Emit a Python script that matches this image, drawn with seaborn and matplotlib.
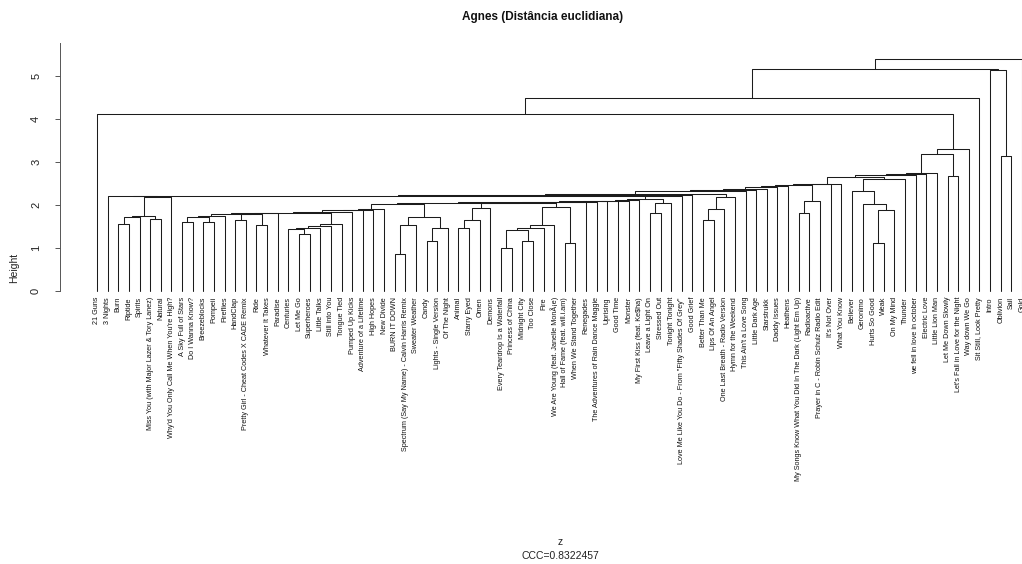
import numpy as np
import pandas as pd
import matplotlib
matplotlib.use("Agg")
import matplotlib.pyplot as plt
import seaborn as sns

sns.set_theme(style="white")
plt.rcParams["font.family"] = ["Liberation Sans", "DejaVu Sans"]

# Leaf labels in dendrogram order
leaves = [
    "21 Guns", "3 Nights", "Burn", "Riptide", "Spirits",
    "Miss You (with Major Lazer & Tory Lanez)", "Natural",
    "Why'd You Only Call Me When You're High?", "A Sky Full of Stars",
    "Do I Wanna Know?", "Breezeblocks", "Pompeii", "Fireflies", "HandClap",
    "Pretty Girl - Cheat Codes X CADE Remix", "Ride", "Whatever It Takes",
    "Paradise", "Centuries", "Let Me Go", "Superheroes", "Little Talks",
    "Still into You", "Tongue Tied", "Pumped Up Kicks",
    "Adventure of a Lifetime", "High Hopes", "New Divide", "BURN IT DOWN",
    "Spectrum (Say My Name) - Calvin Harris Remix", "Sweater Weather", "Candy",
    "Lights - Single Version", "Of The Night", "Animal", "Starry Eyed", "Omen",
    "Demons", "Every Teardrop Is a Waterfall", "Princess of China",
    "Midnight City", "Too Close", "Fire", "We Are Young (feat. Janelle MonÃ¡e)",
    "Hall of Fame (feat. will.i.am)", "When We Stand Together", "Renegades",
    "The Adventures of Rain Dance Maggie", "Uprising", "Good Time", "Monster",
    "My First Kiss (feat. Ke$ha)", "Leave a Light On", "Stressed Out",
    "Tonight Tonight", "Love Me Like You Do - From \"Fifty Shades Of Grey\"",
    "Good Grief", "Better Than Me", "Lips Of An Angel",
    "One Last Breath - Radio Version", "Hymn for the Weekend",
    "This Ain't a Love Song", "Little Dark Age", "Starstrukk", "Daddy Issues",
    "Heathens", "My Songs Know What You Did In The Dark (Light Em Up)",
    "Radioactive", "Prayer in C - Robin Schulz Radio Edit", "It's Not Over",
    "What You Know", "Believer", "Geronimo", "Hurts So Good", "Weak",
    "On My Mind", "Thunder", "we fell in love in october", "Electric Love",
    "Little Lion Man", "Let Me Down Slowly", "Let's Fall in Love for the Night",
    "Way down We Go", "Sit Still, Look Pretty", "Intro", "Oblivion", "Sail",
    "Gold",
]

# Agglomeration steps (hclust convention: negative = leaf number, positive = earlier step)
merge_a = [
    -3, 1, -6, 2, 4, -2, -9, -11, 7, 9, -14, -16, 11, 10, 14, -20, -19, 17, 18,
    19, 15, 21, 22, 23, 24, -29, 26, -32, 28, 27, 25, -35, 32, 33, -39, -41, 35,
    37, 38, -45, 39, 34, 31, 43, 44, 45, 46, 47, 48, -53, 50, 49, 52, 6, 54,
    -58, 56, 57, 55, 59, 60, 61, 62, 63, -67, 65, 64, 67, 68, -74, 70, -73, -72,
    73, 69, 75, 76, 77, -81, 78, 80, -1, 82, -86, -85, 83, 86,
]
merge_b = [
    -4, -5, -7, 3, -8, 5, -10, -12, 8, -13, -15, -17, 12, 13, -18, -21, 16, -22,
    -23, -24, 20, -25, -26, -27, -28, -30, -31, -33, -34, 29, 30, -36, -37, -38,
    -40, -42, 36, -43, -44, -46, 40, 41, 42, -47, -48, -49, -50, -51, -52, -54,
    -55, 51, -56, 53, -57, -59, -60, -61, 58, -62, -63, -64, -65, -66, -68, -69,
    66, -70, -71, -75, -76, 71, 72, -77, 74, -78, -79, -80, -82, 79, -83, 81,
    -84, -87, 84, 85, -88,
]
merge_height = [
    1.55, 1.73, 1.68, 1.74, 2.19, 2.20, 1.61, 1.60, 1.71, 1.74, 1.64, 1.53,
    1.78, 1.79, 1.80, 1.32, 1.43, 1.47, 1.50, 1.55, 1.81, 1.84, 1.87, 1.89,
    1.91, 0.85, 1.53, 1.16, 1.46, 1.71, 2.01, 1.46, 1.65, 1.92, 0.99, 1.17,
    1.42, 1.47, 1.53, 1.12, 1.96, 2.04, 2.05, 2.06, 2.07, 2.08, 2.09, 2.10,
    2.12, 1.82, 2.04, 2.13, 2.20, 2.21, 2.22, 1.65, 1.91, 2.18, 2.25, 2.32,
    2.34, 2.37, 2.42, 2.45, 1.82, 2.10, 2.47, 2.475, 2.48, 1.12, 1.88, 2.02,
    2.33, 2.60, 2.64, 2.70, 2.72, 2.75, 2.68, 3.18, 3.30, 4.11, 4.49, 3.13,
    5.13, 5.15, 5.39,
]

title = "Agnes (Distância euclidiana)"
x_label = "z"
sub_label = "CCC=0.8322457"
y_label = "Height"
y_ticks = [0, 1, 2, 3, 4, 5]

# Build the elbow segments of the dendrogram from the merge table
n = len(leaves)
node_x, node_h = {}, {}


def coord(ref):
    if ref < 0:
        return float(-ref), 0.0
    return node_x[ref], node_h[ref]


rows = []
for k, (a, b, h) in enumerate(zip(merge_a, merge_b, merge_height), start=1):
    xa, ha = coord(a)
    xb, hb = coord(b)
    for px, py in ((xa, ha), (xa, h), (xb, h), (xb, hb)):
        rows.append({"x": px, "y": py, "step": k})
    node_x[k] = (xa + xb) / 2.0
    node_h[k] = h
segments = pd.DataFrame(rows)

W, H = 1022, 564
fig = plt.figure(figsize=(W / 100, H / 100), dpi=100)
fig.patch.set_facecolor("white")

# Plot region in pixels (wider than the canvas on the right)
left_px, right_px = 60, 1059
top_px, zero_px, unit_px = 43, 291, 43.06
bottom_px = 300.5
ax = fig.add_axes([left_px / W, 1 - bottom_px / H,
                   (right_px - left_px) / W, (bottom_px - top_px) / H])
ax.set_facecolor("white")

sns.lineplot(data=segments, x="x", y="y", units="step", estimator=None,
             sort=False, color="#1c1c1c", linewidth=0.75, legend=False, ax=ax)

pad = 0.04 * (n - 1)
ax.set_xlim(1 - pad, n + pad)
y_top = (zero_px - top_px) / unit_px
y_bot = -(bottom_px - zero_px) / unit_px
ax.set_ylim(y_bot, y_top)

ax.set_xticks([])
ax.set_xlabel("")
ax.set_ylabel("")
ax.set_yticks(y_ticks)
ax.set_yticklabels([str(t) for t in y_ticks], rotation=90, va="center",
                   fontsize=8, color="#222222")
ax.tick_params(axis="y", left=True, length=3.6, width=0.7, color="#555555",
               pad=10)
for side in ("top", "right", "bottom"):
    ax.spines[side].set_visible(False)
ax.spines["left"].set_color("#555555")
ax.spines["left"].set_linewidth(0.7)
ax.spines["left"].set_bounds(0, y_top)

# Leaf labels hang below zero
label_y = -(297 - zero_px) / unit_px
for i, name in enumerate(leaves, start=1):
    ax.text(i, label_y, name, rotation=90, ha="center", va="top",
            fontsize=5.2, color="#111111", clip_on=False)

fig.text(543 / W, 1 - 17 / H, title, ha="center", va="center",
         fontsize=8.5, fontweight="bold", color="#111111")
fig.text(14 / W, 1 - 268 / H, y_label, ha="center", va="center",
         rotation=90, fontsize=7.5, color="#222222")
fig.text(560 / W, 1 - 542 / H, x_label, ha="center", va="center",
         fontsize=7.5, color="#222222")
fig.text(560 / W, 1 - 556 / H, sub_label, ha="center", va="center",
         fontsize=7.5, color="#222222")

fig.savefig("out.png", dpi=100, facecolor="white")
